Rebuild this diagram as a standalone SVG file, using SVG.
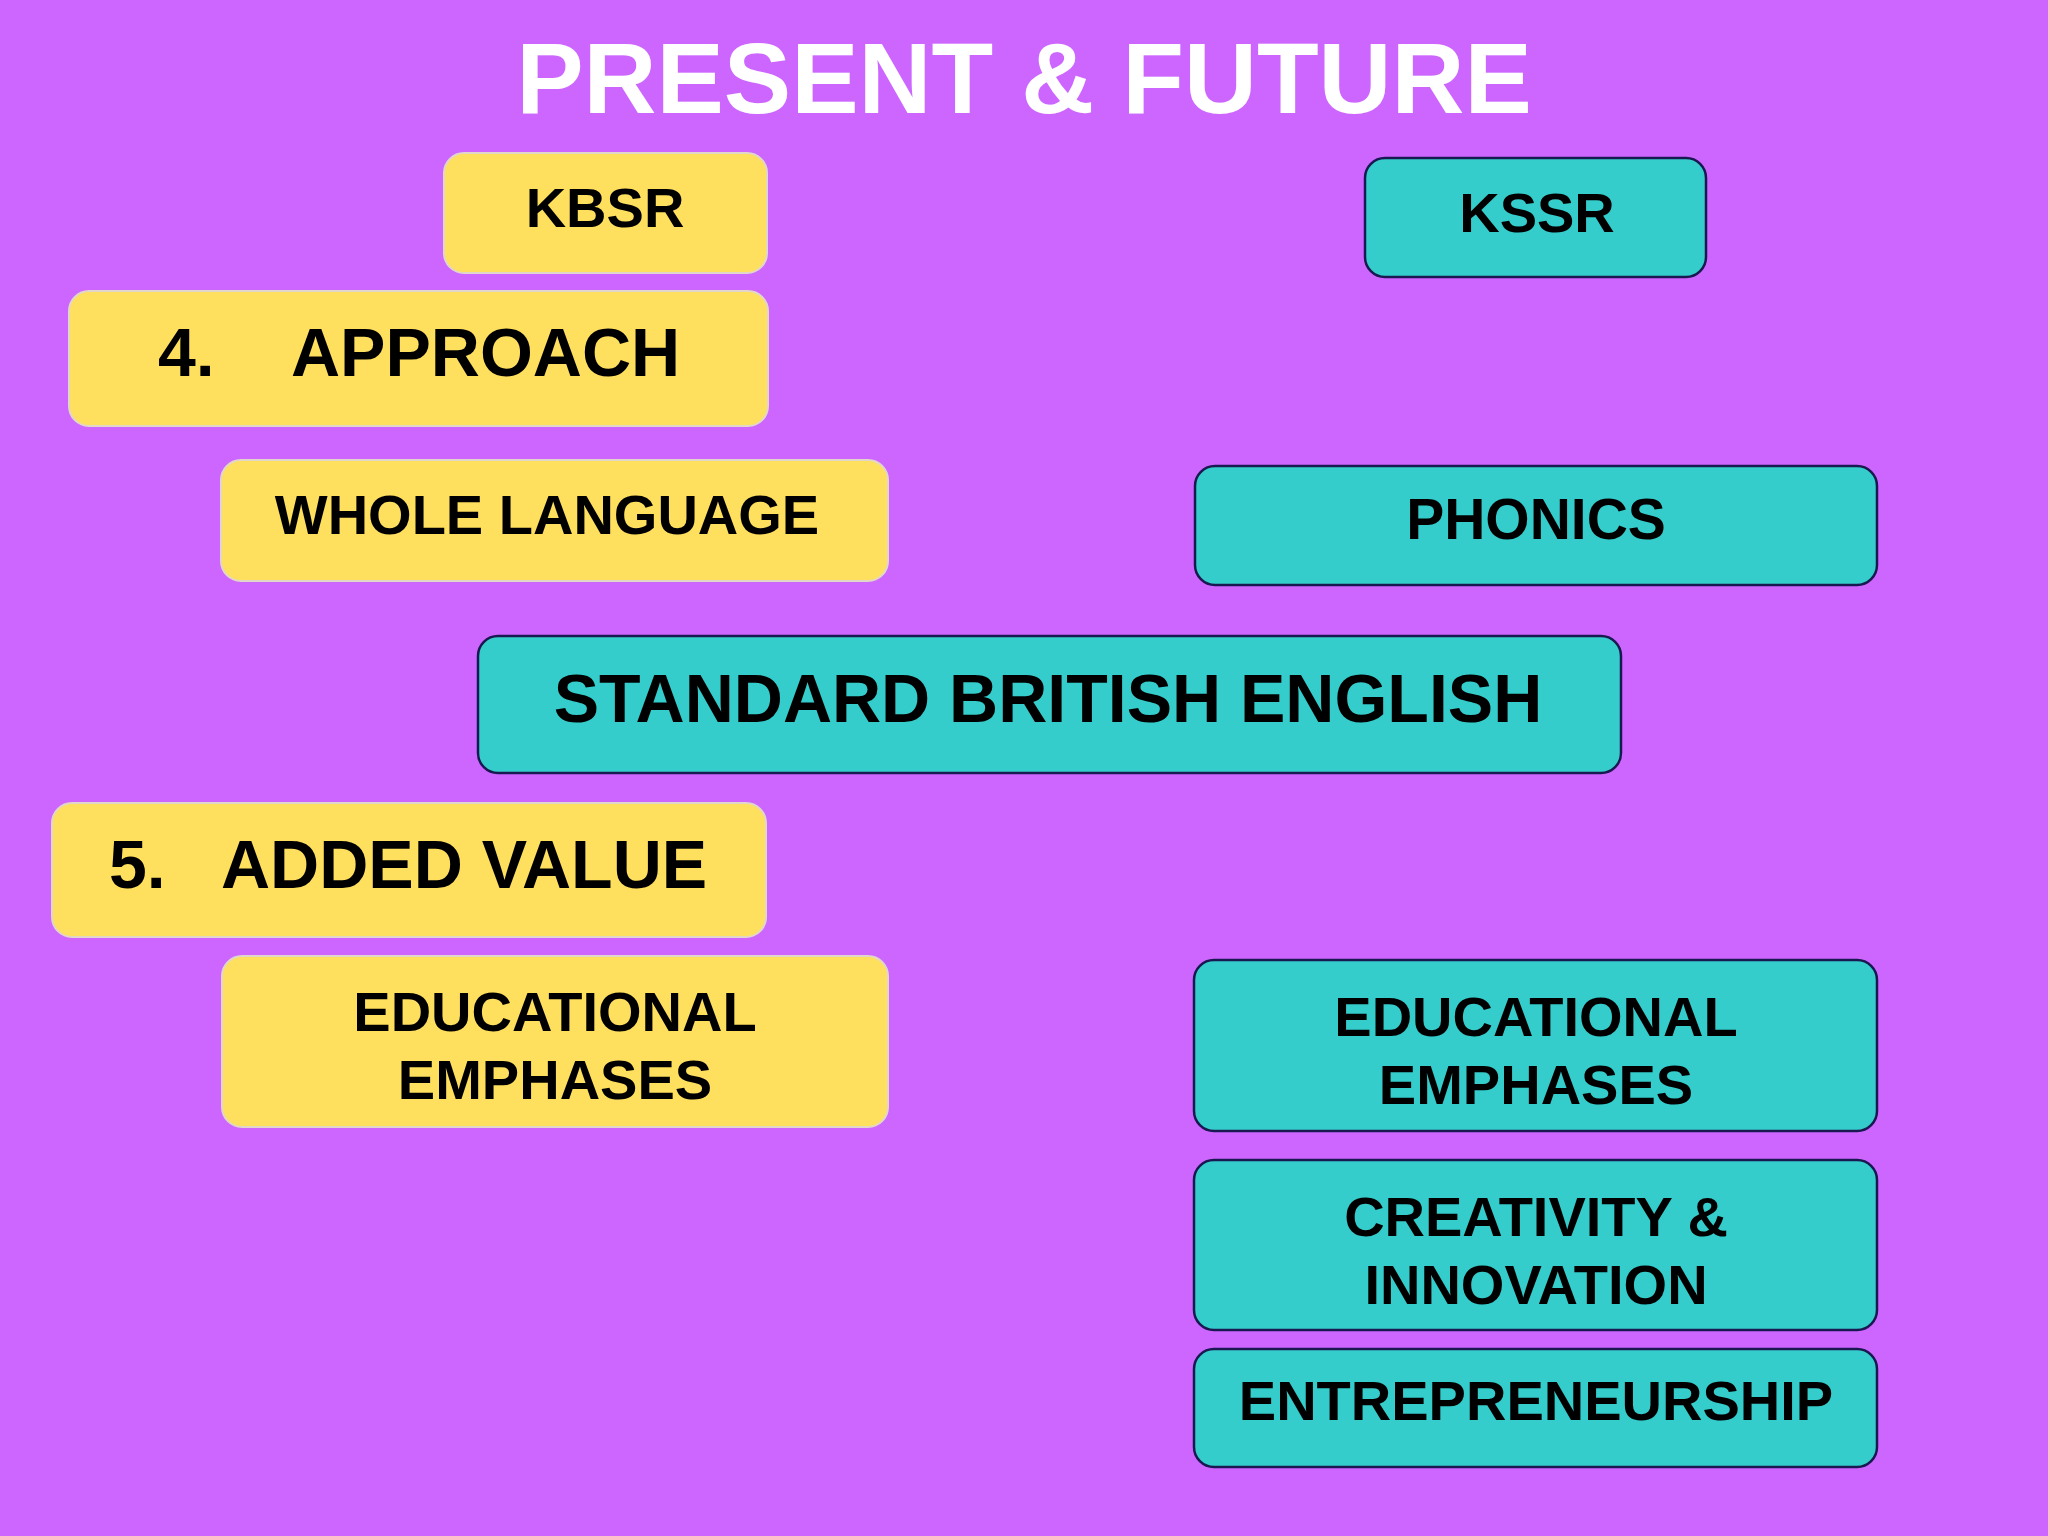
<svg xmlns="http://www.w3.org/2000/svg" width="2048" height="1536" viewBox="0 0 2048 1536">
<style>
.y{fill:#FFDF5E;stroke:#E2D6C8;stroke-width:2}
.c{fill:#35CCCC;stroke:#1A1850;stroke-width:2.5}
text{font-family:"Liberation Sans",Arial,sans-serif;font-weight:bold;fill:#000}
.m{text-anchor:middle}
</style>
<rect width="2048" height="1536" fill="#CC66FF"/>
<text x="1024" y="113" class="m" font-size="101" style="fill:#fff">PRESENT &amp; FUTURE</text>
<g id="kbsr"><rect class="y" x="444" y="153" width="323" height="120" rx="20"/><text x="605" y="227" class="m" font-size="56">KBSR</text></g>
<g id="kssr"><rect class="c" x="1365" y="158" width="341" height="119" rx="20"/><text x="1537" y="232" class="m" font-size="56">KSSR</text></g>
<g id="approach"><rect class="y" x="69" y="291" width="699" height="135" rx="20"/><text x="158" y="376" font-size="68">4.</text><text x="291" y="376" font-size="68">APPROACH</text></g>
<g id="whole-language"><rect class="y" x="221" y="460" width="667" height="121" rx="20"/><text x="547" y="534" class="m" font-size="56">WHOLE LANGUAGE</text></g>
<g id="phonics"><rect class="c" x="1195" y="466" width="682" height="119" rx="20"/><text x="1536" y="539" class="m" font-size="57">PHONICS</text></g>
<g id="sbe"><rect class="c" x="478" y="636" width="1143" height="137" rx="20"/><text x="1048" y="722" class="m" font-size="68">STANDARD BRITISH ENGLISH</text></g>
<g id="added-value"><rect class="y" x="52" y="803" width="714" height="134" rx="20"/><text x="109" y="888" font-size="68">5.</text><text x="221" y="888" font-size="68">ADDED VALUE</text></g>
<g id="edu-left"><rect class="y" x="222" y="956" width="666" height="171" rx="20"/><text x="555" y="1031" class="m" font-size="56">EDUCATIONAL</text><text x="555" y="1099" class="m" font-size="56">EMPHASES</text></g>
<g id="edu-right"><rect class="c" x="1194" y="960" width="683" height="171" rx="20"/><text x="1536" y="1036" class="m" font-size="56">EDUCATIONAL</text><text x="1536" y="1104" class="m" font-size="56">EMPHASES</text></g>
<g id="creativity"><rect class="c" x="1194" y="1160" width="683" height="170" rx="20"/><text x="1536" y="1236" class="m" font-size="56">CREATIVITY &amp;</text><text x="1536" y="1304" class="m" font-size="56">INNOVATION</text></g>
<g id="entrepreneurship"><rect class="c" x="1194" y="1349" width="683" height="118" rx="20"/><text x="1536" y="1420" class="m" font-size="56">ENTREPRENEURSHIP</text></g>
<g id="connectors"></g>
</svg>
